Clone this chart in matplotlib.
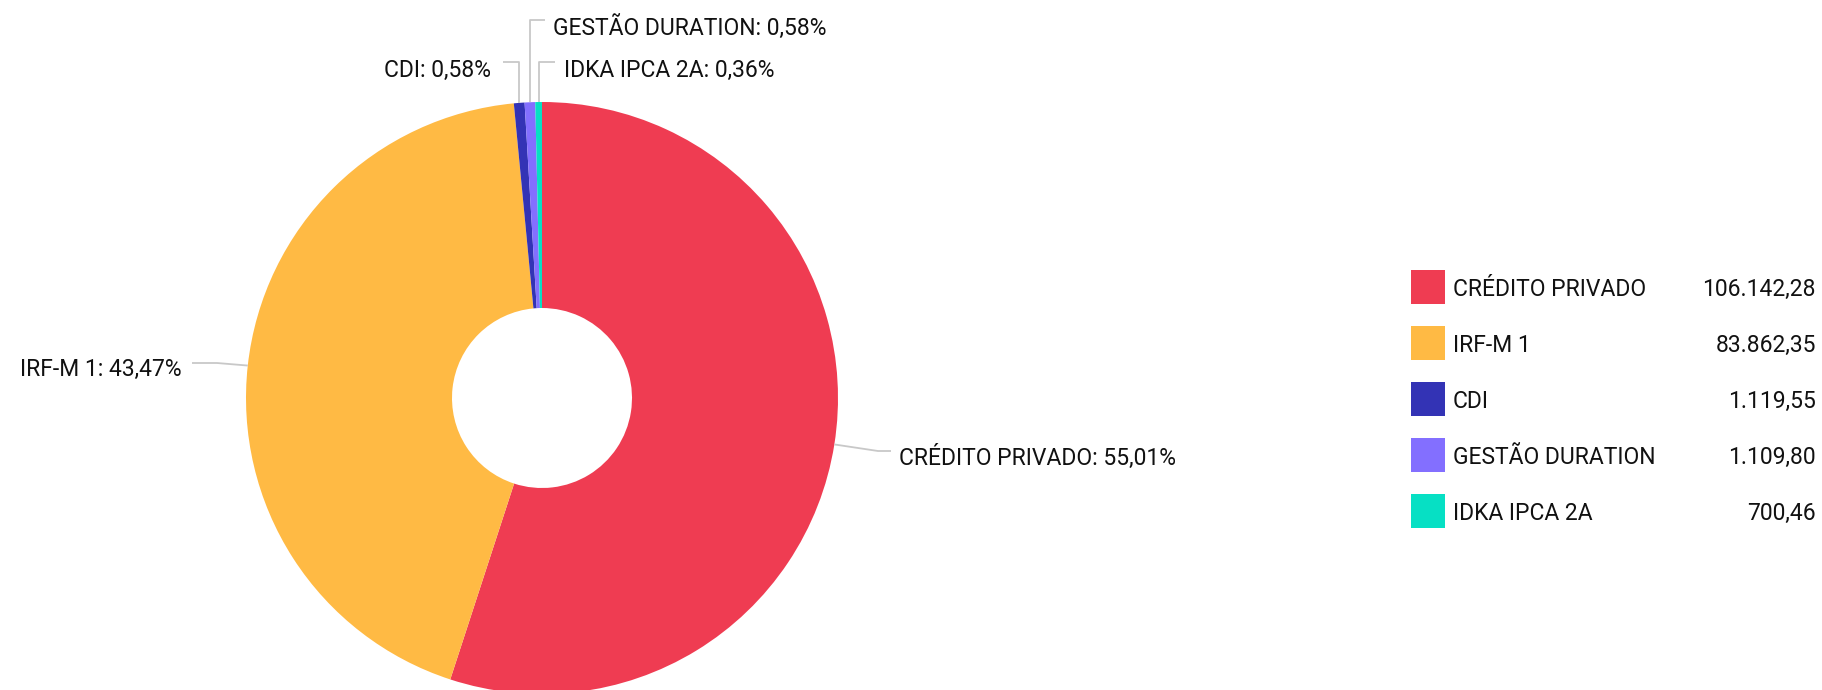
import matplotlib
matplotlib.use('Agg')

import matplotlib.pyplot as plt
import numpy as np
from matplotlib.patches import Rectangle

# data
categories = ['CRÉDITO PRIVADO', 'IRF-M 1', 'CDI', 'GESTÃO DURATION', 'IDKA IPCA 2A']
values = [106142.28, 83862.35, 1119.55, 1109.80, 700.46]
value_labels = ['106.142,28', '83.862,35', '1.119,55', '1.109,80', '700,46']
colors = ['#EF3C52', '#FFBA44', '#3333B5', '#836FFF', '#06E0C4']

plt.rcParams['font.family'] = ['Roboto', 'DejaVu Sans']
FS = 16.5
W, H = 1822, 690

fig = plt.figure(figsize=(W / 100, H / 100), dpi=100)
ax = fig.add_axes([0, 0, 1, 1])

cx, cy, R = 542, H - 398, 296
wedges, _ = ax.pie(values, colors=colors, startangle=90, counterclock=False,
                   center=(cx, cy), radius=R,
                   wedgeprops=dict(width=R - 90, linewidth=0))
ax.set_xlim(0, W)
ax.set_ylim(0, H)
ax.set_aspect('equal')
ax.axis('off')

total = sum(values)
pcts = [v / total * 100 for v in values]

# label layout: (elbow points after the wedge edge point, text x, text y, alignment)
layout = [
    ([(878, H - 451), (891, H - 451)], 899, H - 455, 'left'),
    ([(217, H - 363), (192, H - 363)], 182, H - 367, 'right'),
    ([(None, H - 62), (503, H - 62)], 491, H - 68, 'right'),
    ([(None, H - 20), (545, H - 20)], 553, H - 26, 'left'),
    ([(None, H - 62), (555, H - 62)], 564, H - 68, 'left'),
]

for w, name, p, (pts, tx, ty, ha) in zip(wedges, categories, pcts, layout):
    mid = np.deg2rad((w.theta1 + w.theta2) / 2)
    x0 = cx + R * np.cos(mid)
    y0 = cy + R * np.sin(mid)
    xs, ys = [x0], [y0]
    for px, py in pts:
        xs.append(x0 if px is None else px)
        ys.append(py)
    ax.plot(xs, ys, color='#C8C8C8', lw=1.3, solid_capstyle='butt', zorder=1)
    txt = f'{name}: {p:.2f}%'.replace('.', ',')
    ax.text(tx, ty, txt, ha=ha, va='center_baseline', fontsize=FS, color='#111111')

# legend
ly0 = 287
for i, (name, val, c) in enumerate(zip(categories, value_labels, colors)):
    yc = H - (ly0 + 56 * i)
    ax.add_patch(Rectangle((1411, yc - 17), 34, 34, color=c, lw=0))
    ax.text(1453, yc, name, ha='left', va='center_baseline', fontsize=FS, color='#111111')
    ax.text(1816, yc, val, ha='right', va='center_baseline', fontsize=FS, color='#111111')

plt.savefig('out.png', dpi=100)
